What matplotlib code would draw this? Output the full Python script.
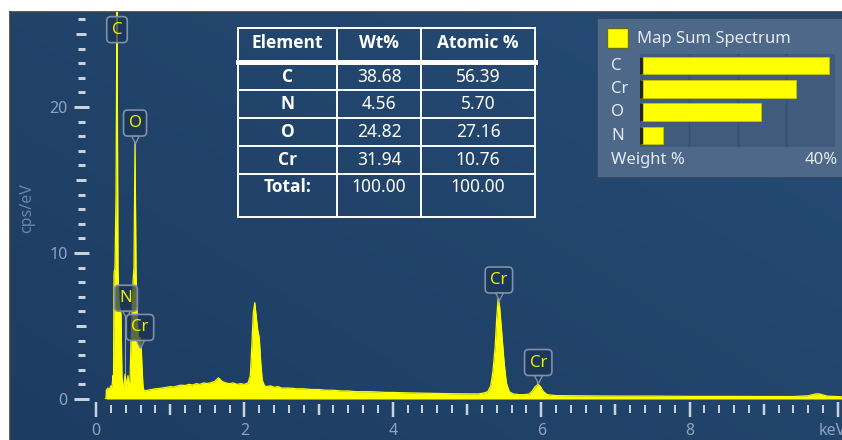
import matplotlib
matplotlib.use('Agg')
import matplotlib.pyplot as plt
from matplotlib.patches import Rectangle
from matplotlib.lines import Line2D
from matplotlib.transforms import ScaledTranslation
import numpy as np

plt.rcParams['font.family'] = ['Noto Sans', 'DejaVu Sans']

# ---------------- data ----------------
energy = [0.125, 0.135, 0.140, 0.160, 0.180, 0.200, 0.215, 0.229, 0.236, 0.243, 0.256, 0.270,
          0.283, 0.296, 0.310, 0.323, 0.337, 0.350, 0.364, 0.377, 0.391, 0.404, 0.418, 0.431,
          0.445, 0.458, 0.472, 0.485, 0.499, 0.512, 0.526, 0.539, 0.553, 0.566, 0.580, 0.593,
          0.606, 0.620, 0.633, 0.647, 0.70, 0.75, 0.80, 0.85, 0.90, 0.95, 1.00, 1.05, 1.10,
          1.15, 1.20, 1.25, 1.30, 1.35, 1.40, 1.45, 1.50, 1.55, 1.60, 1.65, 1.70, 1.75, 1.80,
          1.85, 1.90, 1.95, 2.00, 2.05, 2.08, 2.10, 2.12, 2.14, 2.16, 2.18, 2.20, 2.22, 2.24,
          2.27, 2.30, 2.35, 2.40, 2.45, 2.50, 2.60, 2.70, 2.80, 2.90, 3.00, 3.10, 3.20, 3.30,
          3.40, 3.50, 3.60, 3.70, 3.80, 3.90, 4.00, 4.20, 4.40, 4.60, 4.80, 5.00, 5.15, 5.22,
          5.28, 5.32, 5.35, 5.38, 5.40, 5.42, 5.44, 5.47, 5.50, 5.53, 5.57, 5.62, 5.70, 5.78,
          5.84, 5.88, 5.92, 5.96, 5.99, 6.03, 6.08, 6.20, 6.50, 7.00, 7.50, 8.00, 8.50, 9.00,
          9.40, 9.60, 9.70, 9.75, 9.85, 10.06]
counts = [0.0, 0.0, 0.6, 0.75, 0.65, 0.9, 0.8, 1.6, 1.2, 8.6, 9.0, 14.0,
          28.0, 9.0, 6.5, 6.2, 5.8, 1.5, 0.9, 0.8, 1.7, 1.2, 0.8, 1.6,
          0.9, 1.2, 4.0, 5.5, 8.0, 9.0, 17.6, 9.0, 6.0, 4.4, 4.1, 4.2,
          3.9, 2.2, 0.9, 0.55, 0.6, 0.65, 0.7, 0.72, 0.76, 0.8, 0.85, 0.82, 0.9,
          0.95, 0.92, 1.0, 0.96, 1.05, 1.0, 1.1, 1.06, 1.12, 1.2, 1.45, 1.2, 1.1, 1.05,
          1.1, 1.0, 1.05, 1.0, 1.1, 1.6, 3.6, 5.9, 6.6, 5.6, 4.7, 4.2, 2.5, 1.3,
          0.9, 0.85, 0.9, 0.8, 0.85, 0.75, 0.75, 0.7, 0.7, 0.65, 0.65, 0.6, 0.6, 0.55,
          0.55, 0.5, 0.5, 0.5, 0.48, 0.45, 0.45, 0.42, 0.4, 0.38, 0.36, 0.35, 0.35, 0.4,
          0.5, 0.9, 1.9, 3.6, 5.5, 6.9, 6.3, 4.4, 2.5, 1.1, 0.5, 0.35, 0.3, 0.3,
          0.35, 0.55, 0.85, 1.0, 0.85, 0.5, 0.3, 0.23, 0.22, 0.2, 0.2, 0.18, 0.18, 0.17,
          0.17, 0.22, 0.35, 0.35, 0.2, 0.15]

peak_names = ['C', 'O', 'N', 'Cr', 'Cr', 'Cr']
peak_energy = [0.277, 0.525, 0.392, 0.573, 5.414, 5.946]
label_x = [0.283, 0.526, 0.404, 0.593, 5.43, 5.96]
label_y = [25.3, 18.9, 6.9, 4.9, 8.15, 2.5]

table_elements = ['C', 'N', 'O', 'Cr', 'Total:']
table_wt = ['38.68', '4.56', '24.82', '31.94', '100.00']
table_atomic = ['56.39', '5.70', '27.16', '10.76', '100.00']
table_header = ['Element', 'Wt%', 'Atomic %']

bar_elements = ['C', 'Cr', 'O', 'N']
bar_weight = [38.68, 31.94, 24.82, 4.56]

x_tick_labels = ['0', '', '2', '', '4', '', '6', '', '8', '', 'keV']
y_tick_labels = ['0', '', '10', '', '20', '']

# ---------------- figure ----------------
W, H = 842, 440
fig = plt.figure(figsize=(W / 100, H / 100), dpi=100)
fig.patch.set_facecolor('white')


def fx(px):
    return px / W


def fy(py):
    return 1 - py / H


PX = 0.72  # points per pixel
BOLD_FAMILY = ['Open Sans', 'DejaVu Sans']

# background gradient
bg = fig.add_axes([fx(10), 0, 1 - fx(10), fy(12)])
c1 = np.array([29, 60, 98]) / 255
c2 = np.array([38, 76, 117]) / 255
gx = np.linspace(0, 1, 200)[None, :]
gy = np.linspace(0, 1, 100)[:, None]
t = np.clip(0.55 * gx + 0.45 * gy, 0, 1)
img = c1[None, None, :] * (1 - t[..., None]) + c2[None, None, :] * t[..., None]
bg.imshow(img, extent=[0, 1, 0, 1], aspect='auto', origin='lower')
bg.set_axis_off()
fig.add_artist(Line2D([fx(10), 1], [fy(12), fy(12)], color='#404040', lw=1.2))
fig.add_artist(Line2D([fx(10), fx(10)], [0, fy(12)], color='#404040', lw=1.2))

# main axes
ax = fig.add_axes([fx(96), fy(399), fx(842) - fx(96), fy(12) - fy(399)])
ax.patch.set_alpha(0)
ax.set_zorder(2)
ax.set_xlim(0, 746 / 74.2)
ax.set_ylim(0, 387 / 14.6)

ax.fill_between(energy, counts, 0, color='#ffff00', lw=0, zorder=2)
ax.plot(energy, counts, color='#ffff00', lw=0.9, zorder=2)

for s in ['top', 'right']:
    ax.spines[s].set_visible(False)
ax.spines['left'].set_position(('outward', 15.5 * PX))
ax.spines['bottom'].set_position(('outward', 9.5 * PX))
ax.spines['left'].set_visible(False)
ax.spines['bottom'].set_visible(False)

tick_c = '#c9d1dc'
lab_c = '#8ea3bd'
ax.set_yticks(range(0, 26, 5))
ax.set_yticklabels(y_tick_labels)
ax.set_yticks(range(0, 27), minor=True)
ax.set_xticks(range(0, 11))
ax.set_xticklabels(x_tick_labels)
ax.set_xticks(np.arange(0, 10.01, 0.2), minor=True)

ax.tick_params(axis='y', which='major', direction='inout', length=15 * PX, width=3 * PX,
               color=tick_c, labelcolor=lab_c, labelsize=11.5, pad=4)
ax.tick_params(axis='y', which='minor', direction='inout', length=7 * PX, width=3 * PX,
               color=tick_c)
ax.tick_params(axis='x', which='major', direction='inout', length=15 * PX, width=2.5 * PX,
               color=tick_c, labelcolor=lab_c, labelsize=11.5, pad=5)
ax.tick_params(axis='x', which='minor', direction='inout', length=8 * PX, width=2 * PX,
               color=tick_c)

for tk, v in zip(ax.yaxis.get_major_ticks(), range(0, 26, 5)):
    if v % 10:
        tk.tick1line.set_markersize(10 * PX)
for tk, v in zip(ax.xaxis.get_major_ticks(), range(0, 11)):
    if v % 2:
        tk.tick1line.set_markersize(11 * PX)
kev_label = ax.get_xticklabels()[-1]
kev_label.set_transform(kev_label.get_transform() + ScaledTranslation(-6 / 100, 0, fig.dpi_scale_trans))

fig.text(fx(27), fy(208), 'cps/eV', rotation=90, ha='center', va='center',
         color='#6a84a5', fontsize=11.5)

# peak labels
box_fc = (0.10, 0.20, 0.33, 0.72)
box_ec = '#7f91a8'
for name, pe, lx, ly in zip(peak_names, peak_energy, label_x, label_y):
    bottom = ly - 14 / 14.6
    top_val = float(np.interp(pe, energy, counts))
    if name != 'C' and top_val < bottom - 0.5:
        ax.plot([pe, pe], [bottom - 0.3, top_val], color='#a9b8ca', lw=0.8, alpha=0.8, zorder=3,
                clip_on=False)
    if name != 'C':
        ax.plot([lx], [bottom - 0.15], marker='v', ms=6, mfc=box_fc, mec=box_ec, mew=1.0,
                zorder=4, clip_on=False)
    ax.text(lx, ly, name, ha='center', va='center', color='#eded00', fontsize=12, zorder=5,
            clip_on=False,
            bbox=dict(boxstyle='round,pad=0.3,rounding_size=0.25', fc=box_fc, ec=box_ec, lw=1.2))

# ---------------- table ----------------
col_x = [238, 337, 421, 535]
tl = dict(color='white', lw=1.4, zorder=10)
for xx in col_x:
    fig.add_artist(Line2D([fx(xx), fx(xx)], [fy(28), fy(217)], **tl))
for yy in [28, 90, 118, 146, 174, 217]:
    fig.add_artist(Line2D([fx(238), fx(535)], [fy(yy), fy(yy)], **tl))
fig.add_artist(Line2D([fx(238), fx(535)], [fy(62.5), fy(62.5)], color='white', lw=5 * PX,
                      zorder=10))
col_c = [(col_x[i] + col_x[i + 1]) / 2 for i in range(3)]
for cx, h in zip(col_c, table_header):
    fig.text(fx(cx), fy(43), h, ha='center', va='center', color='white', fontsize=12.5,
             fontweight='bold', family=BOLD_FAMILY, zorder=11)
row_c = [77.5, 104, 132, 160, 187]
for ry, el, wt, at in zip(row_c, table_elements, table_wt, table_atomic):
    fig.text(fx(col_c[0]), fy(ry), el, ha='center', va='center', color='white', fontsize=12.5,
             fontweight='bold', family=BOLD_FAMILY, zorder=11)
    fig.text(fx(col_c[1]), fy(ry), wt, ha='center', va='center', color='white', fontsize=12.5,
             zorder=11)
    fig.text(fx(col_c[2]), fy(ry), at, ha='center', va='center', color='white', fontsize=12.5,
             zorder=11)

# ---------------- legend panel ----------------
fig.add_artist(Rectangle((fx(597), fy(178)), 1 - fx(597) + 0.01, fy(18) - fy(178),
                         transform=fig.transFigure, fc='#4d6889', ec='#2e4563', lw=1.2, zorder=8))
fig.add_artist(Rectangle((fx(607), fy(48)), fx(628) - fx(607), fy(28) - fy(48),
                         transform=fig.transFigure, fc='#ffff00', ec='#6b6b20', lw=1.0, zorder=9))
txt_c = '#e6ebf2'
fig.text(fx(637), fy(39), 'Map Sum Spectrum', ha='left', va='center', color=txt_c,
         fontsize=12, zorder=9)

bax = fig.add_axes([fx(640), fy(147), fx(835) - fx(640), fy(54) - fy(147)])
bax.set_zorder(9)
bax.set_facecolor('#415b7c')
ypos = np.arange(len(bar_elements))
bax.barh(ypos, bar_weight, height=0.75, color='#ffff00', edgecolor='#c4c400', lw=0.6, zorder=3)
bax.vlines(np.zeros(len(ypos)), ypos - 0.375, ypos + 0.375, color='#24240f', lw=2.5, zorder=4)
for g in [10, 20, 30]:
    bax.axvline(g, color='#34506f', lw=1.0, zorder=1)
bax.set_xlim(-0.2, 40)
bax.set_ylim(len(bar_elements) - 0.5, -0.5)
bax.set_xticks([])
bax.set_yticks([])
for s in bax.spines.values():
    s.set_visible(False)
for yy, el in zip([66, 89, 112, 135.5], bar_elements):
    fig.text(fx(611), fy(yy), el, ha='left', va='center', color=txt_c, fontsize=12, zorder=9)
fig.text(fx(611), fy(160), 'Weight %', ha='left', va='center', color=txt_c, fontsize=12, zorder=9)
fig.text(fx(838), fy(160), '40%', ha='right', va='center', color=txt_c, fontsize=12, zorder=9)

fig.savefig('out.png', dpi=100)
